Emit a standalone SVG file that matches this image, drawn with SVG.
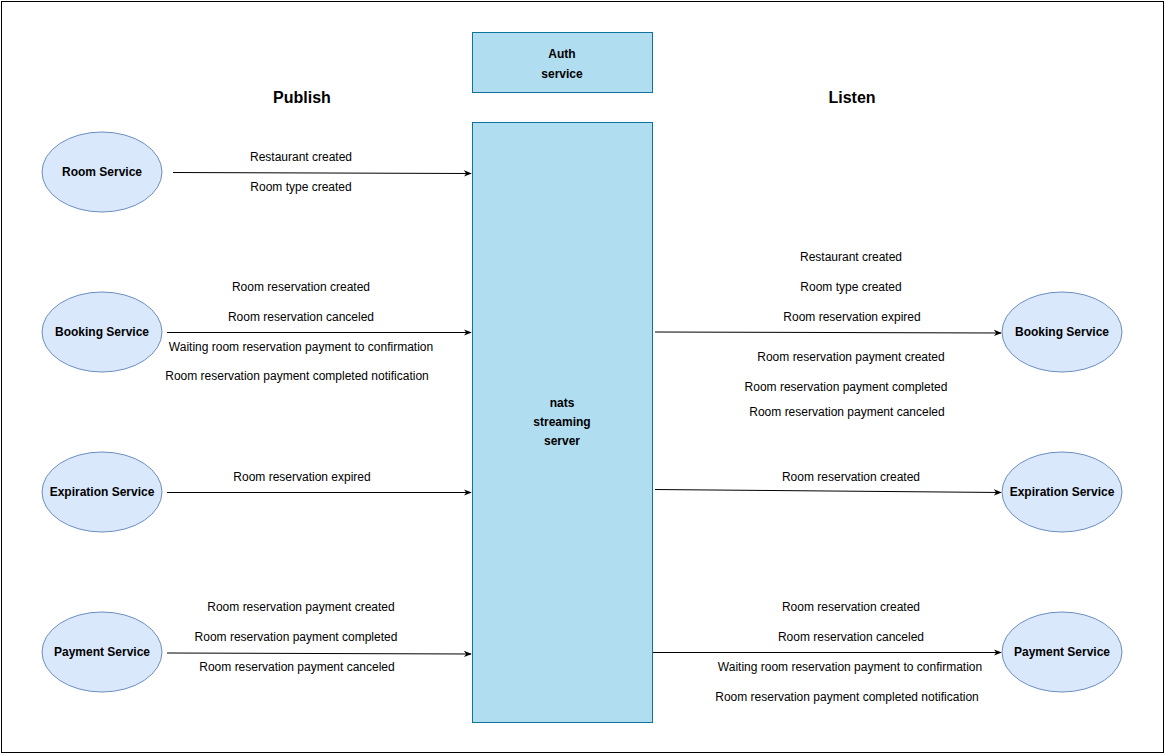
<svg xmlns="http://www.w3.org/2000/svg" width="1166" height="756" viewBox="0 0 1166 756">
<defs>
<marker id="arr" viewBox="0 0 10 10" refX="9" refY="5" markerWidth="8" markerHeight="8" markerUnits="userSpaceOnUse" orient="auto">
<path d="M0,1 L10,5 L0,9 L3,5 Z" fill="#000"/>
</marker>
<style>
.svc{fill:#dae8fc;stroke:#6c8ebf;stroke-width:1}
.box{fill:#b1ddf0;stroke:#10739e;stroke-width:1}
.nm{font-family:"Liberation Sans",Arial,sans-serif;font-size:12px;font-weight:bold;fill:#000;text-anchor:middle}
.lb{font-family:"Liberation Sans",Arial,sans-serif;font-size:12px;fill:#000;text-anchor:middle}
.hd{font-family:"Liberation Sans",Arial,sans-serif;font-size:16px;font-weight:bold;fill:#000;text-anchor:middle}
.cn{stroke:#000;stroke-width:1;fill:none;marker-end:url(#arr)}
</style>
</defs>
<rect x="0" y="0" width="1166" height="756" fill="#fff"/>
<rect x="1.5" y="1.5" width="1162" height="751" fill="none" stroke="#000" stroke-width="1"/>
<text class="hd" x="302" y="103">Publish</text>
<text class="hd" x="852" y="103">Listen</text>
<g id="auth"><rect class="box" x="472.5" y="32.5" width="180" height="60"/><text class="nm" x="562" y="58">Auth</text><text class="nm" x="562" y="78">service</text></g>
<g id="nats"><rect class="box" x="472.5" y="122.5" width="180" height="600"/><text class="nm" x="562" y="407">nats</text><text class="nm" x="562" y="426">streaming</text><text class="nm" x="562" y="445">server</text></g>
<g id="room-pub"><ellipse class="svc" cx="102" cy="172" rx="60" ry="40"/><text class="nm" x="102" y="176">Room Service</text></g>
<g id="booking-pub"><ellipse class="svc" cx="102" cy="332" rx="60" ry="40"/><text class="nm" x="102" y="336">Booking Service</text></g>
<g id="expiration-pub"><ellipse class="svc" cx="102" cy="492" rx="60" ry="40"/><text class="nm" x="102" y="496">Expiration Service</text></g>
<g id="payment-pub"><ellipse class="svc" cx="102" cy="652" rx="60" ry="40"/><text class="nm" x="102" y="656">Payment Service</text></g>
<g id="booking-sub"><ellipse class="svc" cx="1062" cy="332" rx="60" ry="40"/><text class="nm" x="1062" y="336">Booking Service</text></g>
<g id="expiration-sub"><ellipse class="svc" cx="1062" cy="492" rx="60" ry="40"/><text class="nm" x="1062" y="496">Expiration Service</text></g>
<g id="payment-sub"><ellipse class="svc" cx="1062" cy="652" rx="60" ry="40"/><text class="nm" x="1062" y="656">Payment Service</text></g>
<g id="connectors">
<path class="cn" d="M173,172.5 L471,173.5"/>
<path class="cn" d="M167,332.5 L471,332.5"/>
<path class="cn" d="M167,492.5 L471,492.5"/>
<path class="cn" d="M167,653 L471,654"/>
<path class="cn" d="M655,332 L1001,333"/>
<path class="cn" d="M655,489.5 L1001,492.5"/>
<path class="cn" d="M653,652.5 L1001,652.5"/>
<text class="lb" x="301" y="161">Restaurant created</text>
<text class="lb" x="301" y="191">Room type created</text>
<text class="lb" x="301" y="291">Room reservation created</text>
<text class="lb" x="301" y="321">Room reservation canceled</text>
<text class="lb" x="301" y="351">Waiting room reservation payment to confirmation</text>
<text class="lb" x="297" y="380">Room reservation payment completed notification</text>
<text class="lb" x="302" y="481">Room reservation expired</text>
<text class="lb" x="301" y="611">Room reservation payment created</text>
<text class="lb" x="296" y="641">Room reservation payment completed</text>
<text class="lb" x="297" y="671">Room reservation payment canceled</text>
<text class="lb" x="851" y="261">Restaurant created</text>
<text class="lb" x="851" y="291">Room type created</text>
<text class="lb" x="852" y="321">Room reservation expired</text>
<text class="lb" x="851" y="361">Room reservation payment created</text>
<text class="lb" x="846" y="391">Room reservation payment completed</text>
<text class="lb" x="847" y="416">Room reservation payment canceled</text>
<text class="lb" x="851" y="481">Room reservation created</text>
<text class="lb" x="851" y="611">Room reservation created</text>
<text class="lb" x="851" y="641">Room reservation canceled</text>
<text class="lb" x="850" y="671">Waiting room reservation payment to confirmation</text>
<text class="lb" x="847" y="701">Room reservation payment completed notification</text>
</g>
</svg>
